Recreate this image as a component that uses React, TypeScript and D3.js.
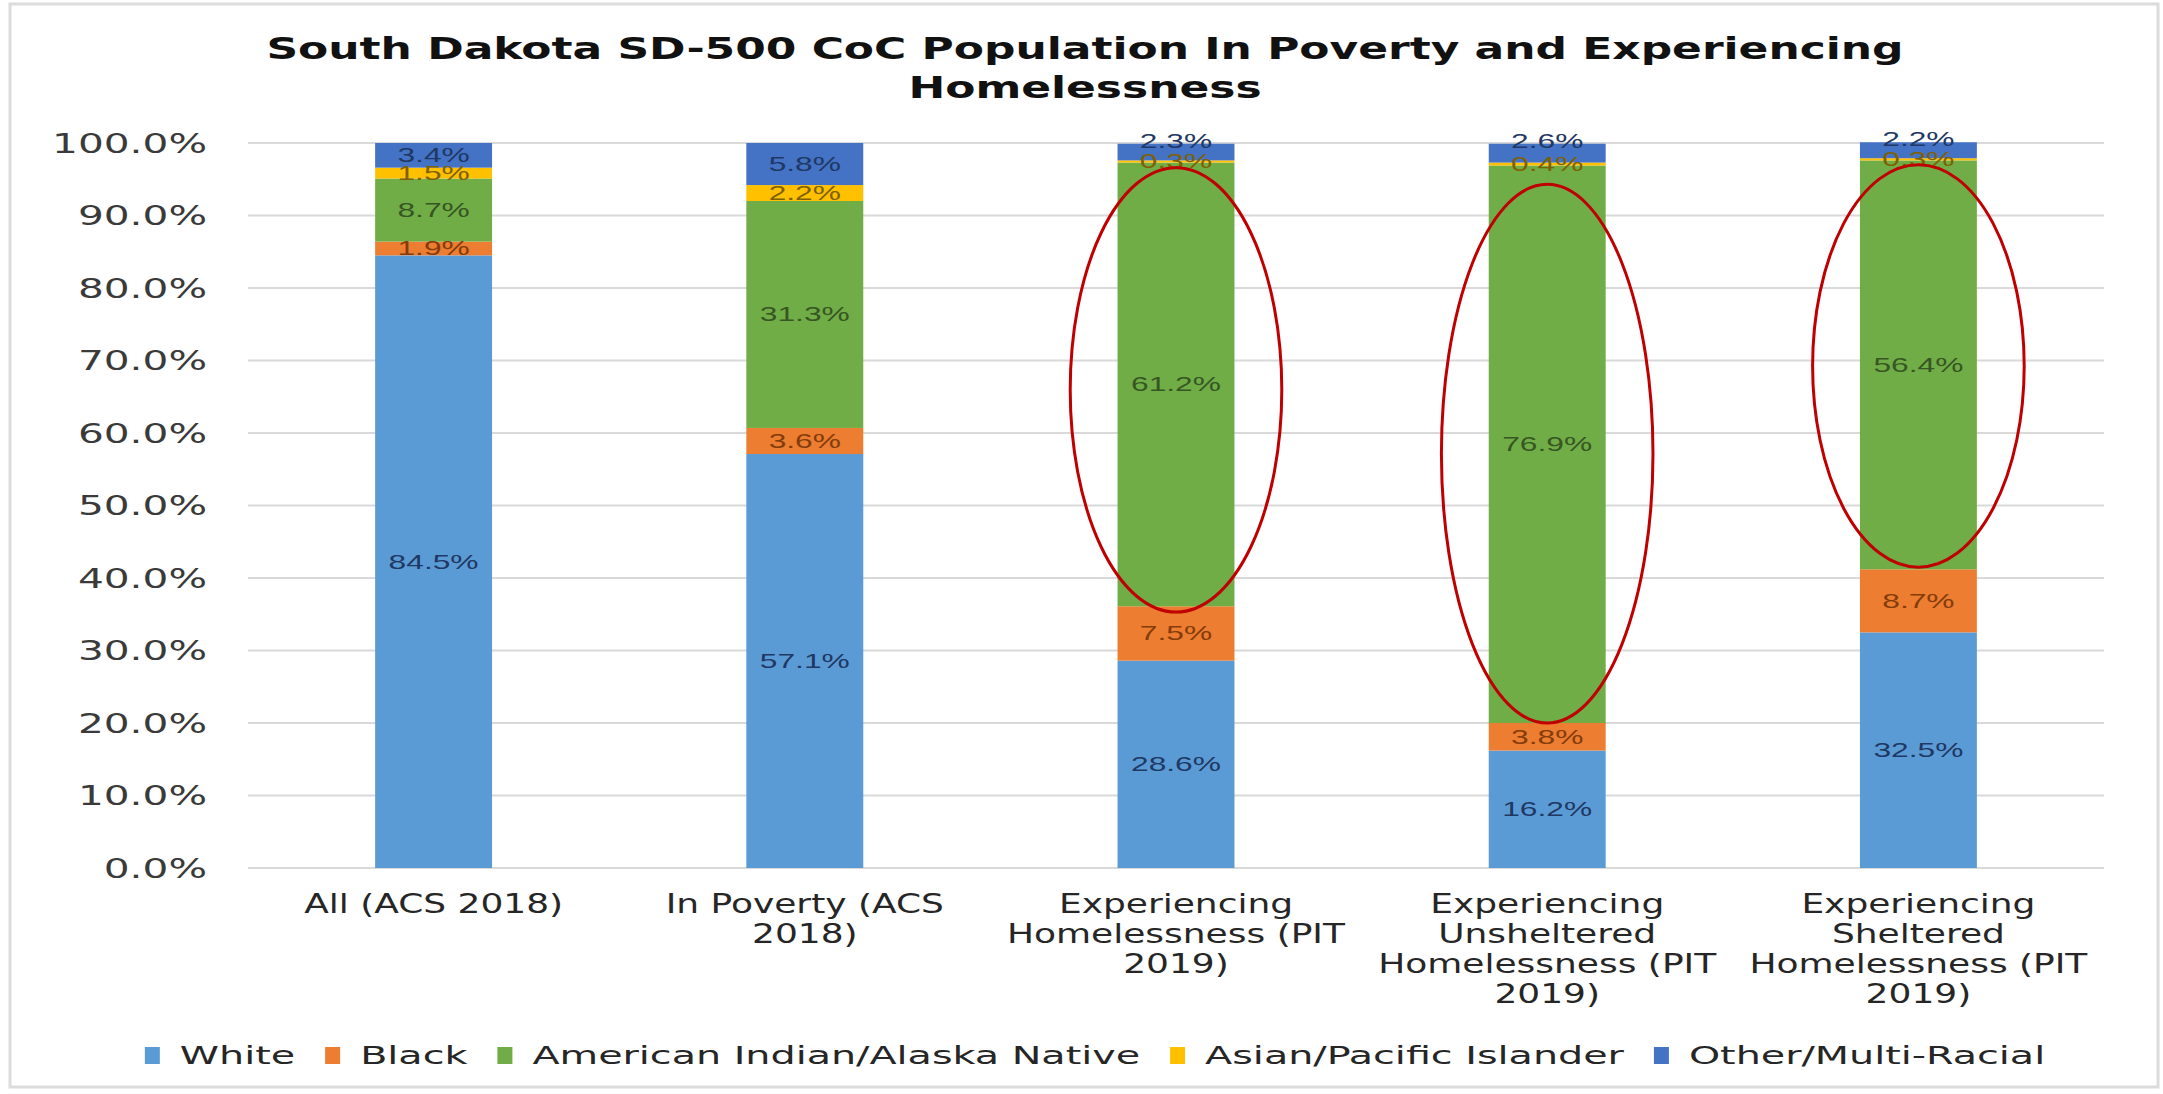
import React, { useEffect, useRef } from 'react';
import * as d3 from 'd3';

const categories: string[][] = [
  ['All (ACS 2018)'],
  ['In Poverty (ACS', '2018)'],
  ['Experiencing', 'Homelessness (PIT', '2019)'],
  ['Experiencing', 'Unsheltered', 'Homelessness (PIT', '2019)'],
  ['Experiencing', 'Sheltered', 'Homelessness (PIT', '2019)'],
];
const seriesNames = ['White', 'Black', 'American Indian/Alaska Native', 'Asian/Pacific Islander', 'Other/Multi-Racial'];
const white = [84.5, 57.1, 28.6, 16.2, 32.5];
const black = [1.9, 3.6, 7.5, 3.8, 8.7];
const aian = [8.7, 31.3, 61.2, 76.9, 56.4];
const asian = [1.5, 2.2, 0.3, 0.4, 0.3];
const other = [3.4, 5.8, 2.3, 2.6, 2.2];
const yTicks = [0, 10, 20, 30, 40, 50, 60, 70, 80, 90, 100];
const titleLines = ['South Dakota SD-500 CoC Population In Poverty and Experiencing', 'Homelessness'];
const highlightIdx = [2, 3, 4];
const highlightLow = [35.3, 20.0, 41.5];
const highlightHigh = [96.6, 94.3, 97.0];

const fills = ['#5b9bd5', '#ed7d31', '#70ad47', '#ffc000', '#4472c4'];
const labelColors = ['#1f3864', '#843c0c', '#375623', '#7f6000', '#1f3864'];

const W = 2163;
const H = 1094;

export default function App() {
  const ref = useRef<SVGSVGElement>(null);

  useEffect(() => {
    const svg = d3.select(ref.current);
    svg.selectAll('*').remove();

    const seriesValues = [white, black, aian, asian, other];
    const rows = categories.map((c, i) => {
      const o: any = { idx: i };
      seriesNames.forEach((s, k) => (o[s] = seriesValues[k][i]));
      return o;
    });
    const stacked = d3.stack<any>().keys(seriesNames)(rows);

    const left = 248, right = 2104, top = 143, bottom = 868;
    const x = d3.scaleBand<number>().domain(d3.range(categories.length)).range([left, right]).padding(0);
    const y = d3.scaleLinear().domain([0, 100]).range([bottom, top]);
    const barW = x.bandwidth() * 0.315;
    const cx = (i: number) => (x(i) as number) + x.bandwidth() / 2;

    svg.append('rect').attr('x', 10).attr('y', 4).attr('width', 2148).attr('height', 1083)
      .attr('fill', '#fff').attr('stroke', '#dcdcdc').attr('stroke-width', 3);

    const addText = (g: any, cls: string, tx: number, ty: number, txt: string, anchor: string) =>
      g.append('text').attr('class', cls).attr('data-x', tx).attr('data-y', ty)
        .attr('text-anchor', anchor).text(txt);

    // grid
    const grid = svg.append('g');
    grid.selectAll('line').data(yTicks).join('line')
      .attr('x1', left).attr('x2', right)
      .attr('y1', (d) => y(d)).attr('y2', (d) => y(d))
      .attr('stroke', '#d9d9d9').attr('stroke-width', 2);

    // y ticks
    const yg = svg.append('g').attr('font-family', 'DejaVu Sans').attr('font-size', 26).attr('fill', '#3a3a3a');
    yTicks.forEach((t) => addText(yg, 'ytick', 207, y(t) + 9.5, d3.format('.1f')(t) + '%', 'end'));

    // bars
    const bars = svg.append('g');
    stacked.forEach((layer, k) => {
      bars.append('g').attr('fill', fills[k]).selectAll('rect').data(layer).join('rect')
        .attr('x', (d: any) => cx(d.data.idx) - barW / 2)
        .attr('width', barW)
        .attr('y', (d: any) => y(d[1]))
        .attr('height', (d: any) => y(d[0]) - y(d[1]));
    });

    // data labels
    const lg = svg.append('g').attr('font-family', 'Liberation Sans').attr('font-size', 20);
    stacked.forEach((layer, k) => {
      layer.forEach((d: any) => {
        const y0 = y(d[0]), y1 = y(d[1]);
        let yc = (y0 + y1) / 2;
        const isTop = k === stacked.length - 1;
        if (isTop && y0 - y1 < 20) yc = y1 - 3;
        const v = seriesValues[k][d.data.idx];
        addText(lg, 'dlab', cx(d.data.idx), yc + 7, v.toFixed(1) + '%', 'middle').attr('fill', labelColors[k]);
      });
    });

    // ellipses
    const eg = svg.append('g');
    highlightIdx.forEach((ci, j) => {
      const yTop = y(highlightHigh[j]), yBot = y(highlightLow[j]);
      eg.append('ellipse').attr('cx', cx(ci)).attr('cy', (yTop + yBot) / 2)
        .attr('rx', x.bandwidth() * 0.285).attr('ry', (yBot - yTop) / 2)
        .attr('fill', 'none').attr('stroke', '#c00000').attr('stroke-width', 3);
    });

    // x labels
    const xg = svg.append('g').attr('font-family', 'DejaVu Sans').attr('font-size', 26).attr('fill', '#262626');
    categories.forEach((lines, i) => {
      lines.forEach((ln, j) => addText(xg, 'xlab', cx(i), 913 + j * 30, ln, 'middle'));
    });

    // title
    const tg = svg.append('g').attr('font-family', 'DejaVu Sans').attr('font-weight', 'bold').attr('font-size', 31).attr('fill', '#111');
    titleLines.forEach((t, j) => addText(tg, 'title', 1085, 59 + j * 39, t, 'middle'));

    // legend
    const leg = svg.append('g').attr('font-family', 'DejaVu Sans').attr('font-size', 24).attr('fill', '#262626');
    const legTexts = seriesNames.map((s) => addText(leg, 'legend', 0, 1064, s, 'start'));

    const applyStretch = (cls: string, refText: string, target: number) => {
      const nodes = svg.selectAll<SVGTextElement, unknown>('text.' + cls);
      let refNode: SVGTextElement | null = null;
      nodes.each(function () { if (this.textContent === refText && !refNode) refNode = this; });
      const nat = (refNode || nodes.node())!.getComputedTextLength();
      const sx = target / nat;
      nodes.each(function () {
        const t = d3.select(this);
        t.attr('transform', `translate(${+t.attr('data-x')},${+t.attr('data-y')}) scale(${sx},1)`);
      });
      return sx;
    };

    applyStretch('ytick', '100.0%', 155);
    applyStretch('dlab', '84.5%', 90);
    applyStretch('xlab', 'Homelessness (PIT', 338);
    applyStretch('title', titleLines[0], 1638);
    const lsx = applyStretch('legend', 'American Indian/Alaska Native', 608);

    // legend layout
    const mW = 15, mH = 17, mGap = 20, itemGap = 30;
    const widths = legTexts.map((t: any) => (t.node() as SVGTextElement).getComputedTextLength() * lsx);
    const total = d3.sum(widths) + seriesNames.length * (mW + mGap) + (seriesNames.length - 1) * itemGap;
    let cur = 1095 - total / 2;
    seriesNames.forEach((s, k) => {
      leg.append('rect').attr('x', cur).attr('y', 1047).attr('width', mW).attr('height', mH).attr('fill', fills[k]);
      const tx = cur + mW + mGap;
      legTexts[k].attr('transform', `translate(${tx},1064) scale(${lsx},1)`);
      cur = tx + widths[k] + itemGap;
    });
  }, []);

  return (
    <svg ref={ref} width={W} height={H} style={{ position: 'absolute', left: 0, top: 0, background: '#fff' }} />
  );
}
